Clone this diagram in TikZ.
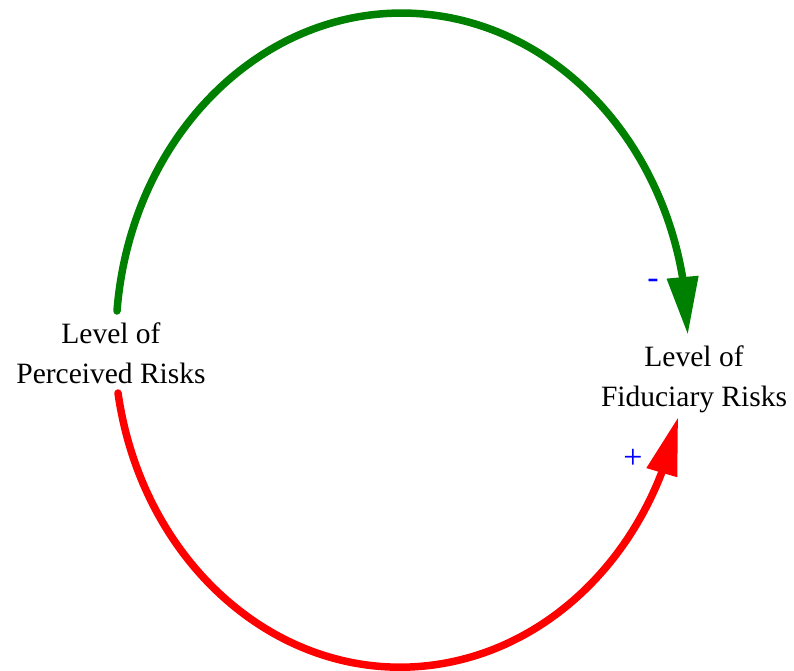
\documentclass[tikz,border=0pt]{standalone}
\usepackage{fontspec}
\setmainfont{Liberation Serif}
\usetikzlibrary{arrows.meta,bending}
\definecolor{loopgreen}{RGB}{0,128,0}
\definecolor{loopred}{RGB}{255,0,0}
\begin{document}
\begin{tikzpicture}[x=1pt,y=-1pt,
	level/.style={align=center,inner sep=0pt,font=\rmfamily\fontsize{29.5}{40}\selectfont},
	polarity/.style={text=blue,inner sep=0pt,font=\rmfamily\fontsize{34}{34}\selectfont},
	link/.style={line width=7.5pt,line cap=round,-{Triangle[length=58pt,width=30pt,flex]}}]
	\useasboundingbox (0,0) rectangle (794,671);
	\node[level] at (111,353) (perceived) {Level of\\Perceived Risks};
	\node[level] at (694,379) (fiduciary) {Level of\\Fiduciary Risks};
	% loop ends: both arcs lie on one ellipse round (403,340)
	\coordinate (p1) at (117,311);
	\coordinate (p2) at (118,393);
	\draw[link,loopgreen] (p1) arc[start angle=-174.9,end angle=-0.9,x radius=286,y radius=327];
	\draw[link,loopred] (p2) arc[start angle=170.7,end angle=13.6,x radius=286,y radius=327];
	\node[polarity] at (653,284) (minus) {-};
	\node[polarity] at (633,459) (plus) {+};
\end{tikzpicture}
\end{document}
